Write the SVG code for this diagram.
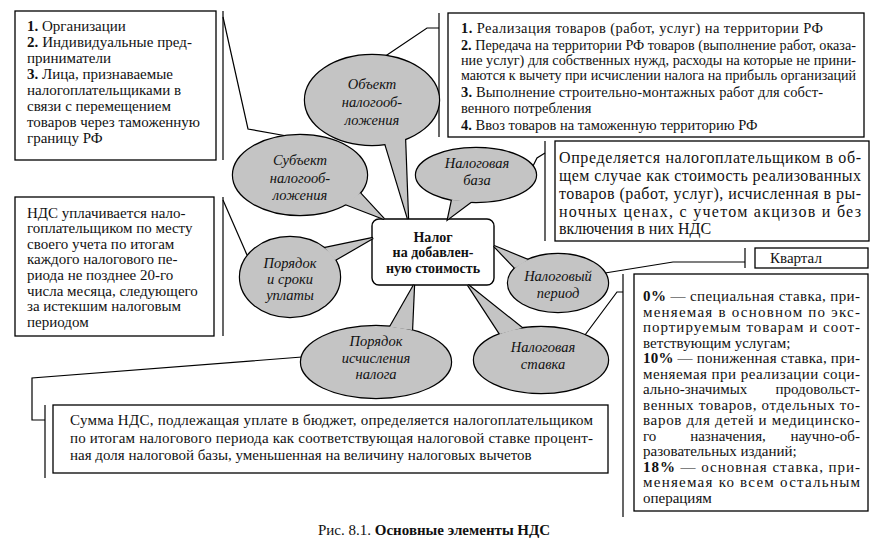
<svg xmlns="http://www.w3.org/2000/svg" width="880" height="549" viewBox="0 0 880 549" font-family="'Liberation Serif', 'DejaVu Serif', serif">
<defs>
<style>
.box{fill:#fff;stroke:#000;stroke-width:1.3}
.ln{fill:none;stroke:#000;stroke-width:1.2}
.t{font-family:'Liberation Serif','DejaVu Serif',serif;fill:#111}
.s15{font-size:15px}
.s14{font-size:14px}
.s145{font-size:14.5px}
.s16{font-size:16px}
.b{font-weight:bold}
.bo{fill:#c4c4c4;stroke:#000;stroke-width:2.4}
.bf{fill:#c4c4c4;stroke:none}
.et{font-family:'Liberation Serif','DejaVu Serif',serif;font-style:italic;font-size:14.5px;text-anchor:middle;fill:#111}
.ct{font-family:'Liberation Serif','DejaVu Serif',serif;font-weight:bold;font-size:14px;text-anchor:middle;fill:#111}
</style>
</defs>
<rect width="880" height="549" fill="#fff"/>

<g id="connectors">
  <line class="ln" x1="223" y1="11" x2="223" y2="160"/>
  <polyline class="ln" points="223,17 248,129 287,136"/>
  <line class="ln" x1="223" y1="197" x2="223" y2="336"/>
  <polyline class="ln" points="223,200 247,255"/>
  <line class="ln" x1="439" y1="13" x2="439" y2="137"/>
  <polyline class="ln" points="439,28 427,28 384,57"/>
  <line class="ln" x1="545" y1="141" x2="545" y2="241"/>
  <polyline class="ln" points="545,153 537,158 533,166"/>
  <line class="ln" x1="745" y1="248" x2="745" y2="268"/>
  <polyline class="ln" points="745,262 673,262 605,273"/>
  <line class="ln" x1="623" y1="274" x2="623" y2="517"/>
  <polyline class="ln" points="623,292 617,292 585,335"/>
  <line class="ln" x1="45" y1="405" x2="45" y2="478"/>
  <polyline class="ln" points="302,357 32,378 32,420 45,420"/>
</g>

<g id="box-subjects">
  <rect class="box" x="15" y="11" width="201" height="149"/>
  <text class="t s15" x="27" y="30.5"><tspan class="b">1.</tspan> Организации</text>
  <text class="t s15" x="27" y="46.5" textLength="165" lengthAdjust="spacing"><tspan class="b">2.</tspan> Индивидуальные пред-</text>
  <text class="t s15" x="27" y="62.5">приниматели</text>
  <text class="t s15" x="27" y="78.5"><tspan class="b">3.</tspan> Лица, признаваемые</text>
  <text class="t s15" x="27" y="94.5">налогоплательщиками в</text>
  <text class="t s15" x="27" y="110.5">связи с перемещением</text>
  <text class="t s15" x="27" y="126.5">товаров через таможенную</text>
  <text class="t s15" x="27" y="142.5">границу РФ</text>
</g>

<g id="box-objects">
  <rect class="box" x="448" y="13" width="416" height="124"/>
  <text class="t s145" x="461" y="33" textLength="362" lengthAdjust="spacing"><tspan class="b">1.</tspan> Реализация товаров (работ, услуг) на территории РФ</text>
  <text class="t s145" x="461" y="50" textLength="395" lengthAdjust="spacingAndGlyphs"><tspan class="b">2.</tspan> Передача на территории РФ товаров (выполнение работ, оказа-</text>
  <text class="t s145" x="461" y="65" textLength="395" lengthAdjust="spacingAndGlyphs">ние услуг) для собственных нужд, расходы на которые не прини-</text>
  <text class="t s145" x="461" y="80" textLength="395" lengthAdjust="spacingAndGlyphs">маются к вычету при исчислении налога на прибыль организаций</text>
  <text class="t s145" x="461" y="97" textLength="362" lengthAdjust="spacing"><tspan class="b">3.</tspan> Выполнение строительно-монтажных работ для собст-</text>
  <text class="t s145" x="461" y="113">венного потребления</text>
  <text class="t s145" x="461" y="130"><tspan class="b">4.</tspan> Ввоз товаров на таможенную территорию РФ</text>
</g>

<g id="box-base">
  <rect class="box" x="555" y="141" width="314" height="100"/>
  <text class="t s16" x="559" y="163" textLength="302" lengthAdjust="spacing">Определяется налогоплательщиком в об-</text>
  <text class="t s16" x="559" y="181" textLength="302" lengthAdjust="spacing">щем случае как стоимость реализованных</text>
  <text class="t s16" x="559" y="199" textLength="302" lengthAdjust="spacing">товаров (работ, услуг), исчисленная в ры-</text>
  <text class="t s16" x="559" y="217" textLength="302" lengthAdjust="spacing">ночных ценах, с учетом акцизов и без</text>
  <text class="t s16" x="559" y="234">включения в них НДС</text>
</g>

<g id="box-payment">
  <rect class="box" x="15" y="197" width="199" height="139"/>
  <text class="t s15" x="27" y="217.5">НДС уплачивается нало-</text>
  <text class="t s15" x="27" y="233.1">гоплательщиком  по месту</text>
  <text class="t s15" x="27" y="248.7">своего учета по итогам</text>
  <text class="t s15" x="27" y="264.3">каждого налогового пе-</text>
  <text class="t s15" x="27" y="279.9">риода не позднее 20-го</text>
  <text class="t s15" x="27" y="295.5">числа месяца, следующего</text>
  <text class="t s15" x="27" y="311.1">за истекшим налоговым</text>
  <text class="t s15" x="27" y="326.7">периодом</text>
</g>

<g id="box-period">
  <rect class="box" x="755" y="248" width="113" height="20"/>
  <text class="t s15" x="770" y="263">Квартал</text>
</g>

<g id="box-rate">
  <rect class="box" x="634" y="274" width="234" height="237"/>
  <text class="t s15" x="643" y="301" textLength="217" lengthAdjust="spacing"><tspan class="b">0%</tspan> — специальная ставка, при-</text>
  <text class="t s15" x="643" y="316.5" textLength="217" lengthAdjust="spacing">меняемая в основном по экс-</text>
  <text class="t s15" x="643" y="332" textLength="217" lengthAdjust="spacing">портируемым товарам и соот-</text>
  <text class="t s15" x="643" y="347.5">ветствующим услугам;</text>
  <text class="t s15" x="643" y="363" textLength="217" lengthAdjust="spacing"><tspan class="b">10%</tspan> — пониженная ставка, при-</text>
  <text class="t s15" x="643" y="378.5" textLength="217" lengthAdjust="spacing">меняемая при реализации соци-</text>
  <text class="t s15" x="643" y="394">ально-значимых</text>
  <text class="t s15" x="860" y="394" text-anchor="end">продовольст-</text>
  <text class="t s15" x="643" y="409.5" textLength="217" lengthAdjust="spacing">венных товаров, отдельных то-</text>
  <text class="t s15" x="643" y="425" textLength="217" lengthAdjust="spacing">варов для детей и медицинско-</text>
  <text class="t s15" x="643" y="440.5">го</text>
  <text class="t s15" x="728" y="440.5" text-anchor="middle">назначения,</text>
  <text class="t s15" x="860" y="440.5" text-anchor="end">научно-об-</text>
  <text class="t s15" x="643" y="456">разовательных изданий;</text>
  <text class="t s15" x="643" y="471.5" textLength="217" lengthAdjust="spacing"><tspan class="b">18%</tspan> — основная ставка, при-</text>
  <text class="t s15" x="643" y="487" textLength="217" lengthAdjust="spacing">меняемая ко всем остальным</text>
  <text class="t s15" x="643" y="502.5">операциям</text>
</g>

<g id="box-calc">
  <rect class="box" x="53" y="405" width="555" height="68"/>
  <text class="t s15" x="70" y="425" textLength="523" lengthAdjust="spacing">Сумма НДС, подлежащая уплате в бюджет, определяется налогоплательщиком</text>
  <text class="t s15" x="70" y="443" textLength="523" lengthAdjust="spacing">по итогам налогового периода как соответствующая налоговой ставке процент-</text>
  <text class="t s15" x="70" y="460">ная доля налоговой базы, уменьшенная на величину налоговых вычетов</text>
</g>

<g id="node-center">
  <rect x="372" y="219" width="122" height="66" rx="7" ry="7" fill="#fff" stroke="#000" stroke-width="1.4"/>
  <text class="ct" x="433" y="242">Налог</text>
  <text class="ct" x="433" y="257">на добавлен-</text>
  <text class="ct" x="433" y="273">ную стоимость</text>
</g>

<g id="node-object">
  <g class="bo"><ellipse cx="372" cy="100" rx="67" ry="45"/><polygon points="385,143 408,219 405,138"/></g>
  <g class="bf"><ellipse cx="372" cy="100" rx="67" ry="45"/><polygon points="385,143 408,219 405,138"/></g>
  <text class="et" x="372" y="89">Объект</text>
  <text class="et" x="372" y="107">налогооб-</text>
  <text class="et" x="372" y="125">ложения</text>
</g>

<g id="node-subject">
  <g class="bo"><ellipse cx="300" cy="175" rx="67" ry="40"/><polygon points="345,204 384,219 360,193"/></g>
  <g class="bf"><ellipse cx="300" cy="175" rx="67" ry="40"/><polygon points="345,204 384,219 360,193"/></g>
  <text class="et" x="300" y="165">Субъект</text>
  <text class="et" x="300" y="183">налогооб-</text>
  <text class="et" x="300" y="200">ложения</text>
</g>

<g id="node-base">
  <g class="bo"><ellipse cx="476" cy="175" rx="60" ry="27"/><polygon points="452,200 448,219 472,201"/></g>
  <g class="bf"><ellipse cx="476" cy="175" rx="60" ry="27"/><polygon points="452,200 448,219 472,201"/></g>
  <text class="et" x="477" y="168">Налоговая</text>
  <text class="et" x="477" y="185">база</text>
</g>

<g id="node-payment">
  <g class="bo"><ellipse cx="290" cy="277" rx="50" ry="40"/><polygon points="325,248 373,238 335,260"/></g>
  <g class="bf"><ellipse cx="290" cy="277" rx="50" ry="40"/><polygon points="325,248 373,238 335,260"/></g>
  <text class="et" x="290" y="268">Порядок</text>
  <text class="et" x="290" y="284">и сроки</text>
  <text class="et" x="290" y="300">уплаты</text>
</g>

<g id="node-period">
  <g class="bo"><ellipse cx="558" cy="283" rx="50" ry="29"/><polygon points="515,268 494,246 528,260"/></g>
  <g class="bf"><ellipse cx="558" cy="283" rx="50" ry="29"/><polygon points="515,268 494,246 528,260"/></g>
  <text class="et" x="558" y="281">Налоговый</text>
  <text class="et" x="558" y="298">период</text>
</g>

<g id="node-calc">
  <g class="bo"><ellipse cx="376" cy="362" rx="75" ry="36"/><polygon points="390,327 414,285 412,330"/></g>
  <g class="bf"><ellipse cx="376" cy="362" rx="75" ry="36"/><polygon points="390,327 414,285 412,330"/></g>
  <text class="et" x="376" y="346">Порядок</text>
  <text class="et" x="376" y="363">исчисления</text>
  <text class="et" x="376" y="379">налога</text>
</g>

<g id="node-rate">
  <g class="bo"><ellipse cx="541" cy="360" rx="67" ry="33"/><polygon points="500,334 468,285 522,328"/></g>
  <g class="bf"><ellipse cx="541" cy="360" rx="67" ry="33"/><polygon points="500,334 468,285 522,328"/></g>
  <text class="et" x="543" y="352">Налоговая</text>
  <text class="et" x="543" y="369">ставка</text>
</g>

<g id="caption">
  <text class="t" font-size="15" x="318" y="535">Рис. 8.1. <tspan class="b">Основные элементы НДС</tspan></text>
</g>
</svg>
